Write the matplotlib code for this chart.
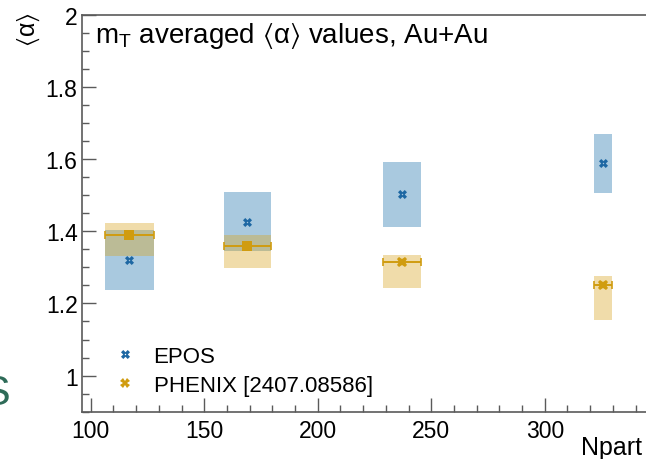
import numpy as np
import matplotlib
matplotlib.use("Agg")
import matplotlib.pyplot as plt
from matplotlib.path import Path
from matplotlib.ticker import MultipleLocator, FormatStrFormatter

# centrality classes, Au+Au
npart = [117.0, 169.0, 237.1, 325.6]
npart_err = [10.8, 10.5, 8.5, 3.8]

# EPOS, mT averaged <alpha> with symmetric band
epos_alpha = [1.320, 1.427, 1.503, 1.588]
epos_sys = [0.084, 0.081, 0.090, 0.081]

# PHENIX, asymmetric systematic band
phenix_alpha = [1.390, 1.360, 1.314, 1.252]
phenix_sys_lo = [0.058, 0.063, 0.072, 0.097]
phenix_sys_hi = [0.033, 0.030, 0.021, 0.025]

legend_labels = ["EPOS", "PHENIX [2407.08586]"]

# style
phenix_markers = ["s", "s", "X", "X"]
epos_col = "#1d67a3"
epos_box = "#2a7ab0"
phenix_col = "#d09c10"
phenix_box = "#d9a520"
frame_col = "#5a5a5a"

plt.rcParams["font.family"] = ["Liberation Sans", "DejaVu Sans"]
plt.rcParams["mathtext.fontset"] = "custom"
plt.rcParams["mathtext.rm"] = "Liberation Sans"
plt.rcParams["mathtext.it"] = "Liberation Sans:italic"
plt.rcParams["mathtext.bf"] = "Liberation Sans:bold"
plt.rcParams["mathtext.fallback"] = "stixsans"


def cross_with_hole(w=0.34, h=0.13):
    # X shaped marker with a small hole in the middle
    outer = [(-w, 1), (w, 1), (w, w), (1, w), (1, -w), (w, -w), (w, -1),
             (-w, -1), (-w, -w), (-1, -w), (-1, w), (-w, w)]
    inner = [(-h, -h), (h, -h), (h, h), (-h, h)]
    c, s = np.cos(np.pi / 4), np.sin(np.pi / 4)
    verts, codes = [], []
    for poly in (outer, inner):
        for k, (x, y) in enumerate(poly):
            verts.append((c * x - s * y, s * x + c * y))
            codes.append(Path.MOVETO if k == 0 else Path.LINETO)
        verts.append((0, 0))
        codes.append(Path.CLOSEPOLY)
    return Path(verts, codes)


epos_marker = cross_with_hole()

W, H = 646, 460
x0, x1 = 96, 347
fig = plt.figure(figsize=(W / 100, H / 100), dpi=100)
ax = fig.add_axes([81.7 / W, (H - 412.7) / H, (x1 - x0) * 2.27 / W, 397 / H])

npart = np.array(npart)
npart_err = np.array(npart_err)
epos_alpha = np.array(epos_alpha)
epos_sys = np.array(epos_sys)
phenix_alpha = np.array(phenix_alpha)
lo = np.array(phenix_sys_lo)
hi = np.array(phenix_sys_hi)

# systematic boxes
ax.bar(npart, 2 * epos_sys, width=2 * npart_err, bottom=epos_alpha - epos_sys,
       color=epos_box, alpha=0.4, linewidth=0, zorder=1)
ax.bar(npart, lo + hi, width=2 * npart_err, bottom=phenix_alpha - lo,
       color=phenix_box, alpha=0.38, linewidth=0, zorder=2)

# PHENIX horizontal bars
ax.errorbar(npart, phenix_alpha, xerr=npart_err, fmt="none", ecolor=phenix_col,
            elinewidth=1.4, capsize=3, capthick=1.2, zorder=3)

for m in set(phenix_markers):
    sel = [i for i, mm in enumerate(phenix_markers) if mm == m]
    ax.plot(npart[sel], phenix_alpha[sel], linestyle="none", marker=m,
            color=phenix_col, markersize=7 if m == "s" else 7.5,
            markeredgewidth=0, zorder=4)

ax.plot(npart, epos_alpha, linestyle="none", marker=epos_marker,
        color=epos_col, markersize=6.5, markeredgewidth=0, zorder=5)

# legend entries
h_epos, = ax.plot([], [], linestyle="none", marker=epos_marker, color=epos_col,
                  markersize=6.5, markeredgewidth=0)
h_phx, = ax.plot([], [], linestyle="none", marker="X", color=phenix_col,
                 markersize=7, markeredgewidth=0)
ax.legend([h_epos, h_phx], legend_labels, loc="center left",
          bbox_to_anchor=(0.0578, 0.1025), frameon=False, fontsize=16,
          handlelength=0.9, handletextpad=0.85, labelspacing=0.34,
          borderpad=0, borderaxespad=0)

ax.set_xlim(x0, x1)
ax.set_ylim(0.9, 2.0)
ax.xaxis.set_major_locator(MultipleLocator(50))
ax.xaxis.set_minor_locator(MultipleLocator(10))
ax.yaxis.set_major_locator(MultipleLocator(0.2))
ax.yaxis.set_minor_locator(MultipleLocator(0.05))
ax.yaxis.set_major_formatter(FormatStrFormatter("%g"))

ax.tick_params(which="both", direction="in", top=False, right=False,
               color=frame_col, width=1.0, labelsize=16.5)
ax.tick_params(which="major", length=10)
ax.tick_params(which="minor", length=5)
ax.tick_params(axis="y", pad=3)
ax.tick_params(axis="x", pad=5)
for sp in ax.spines.values():
    sp.set_color(frame_col)
    sp.set_linewidth(1.2)

ax.text(0.024, 0.932, r"m$_{\mathrm{T}}$ averaged $\langle\mathrm{\alpha}\rangle$ values, Au+Au",
        transform=ax.transAxes, fontsize=20, va="baseline", ha="left")

fig.text(29 / W, (H - 30) / H, r"$\langle\mathrm{\alpha}\rangle$", rotation=90,
         ha="center", va="center", fontsize=18)
fig.text(642 / W, (H - 455) / H, "Npart", ha="right", va="baseline", fontsize=18)
fig.text(10 / W, (H - 405) / H, "S", ha="right", va="baseline", fontsize=31,
         color="#2e6b58")

fig.savefig("out.png", dpi=100)
